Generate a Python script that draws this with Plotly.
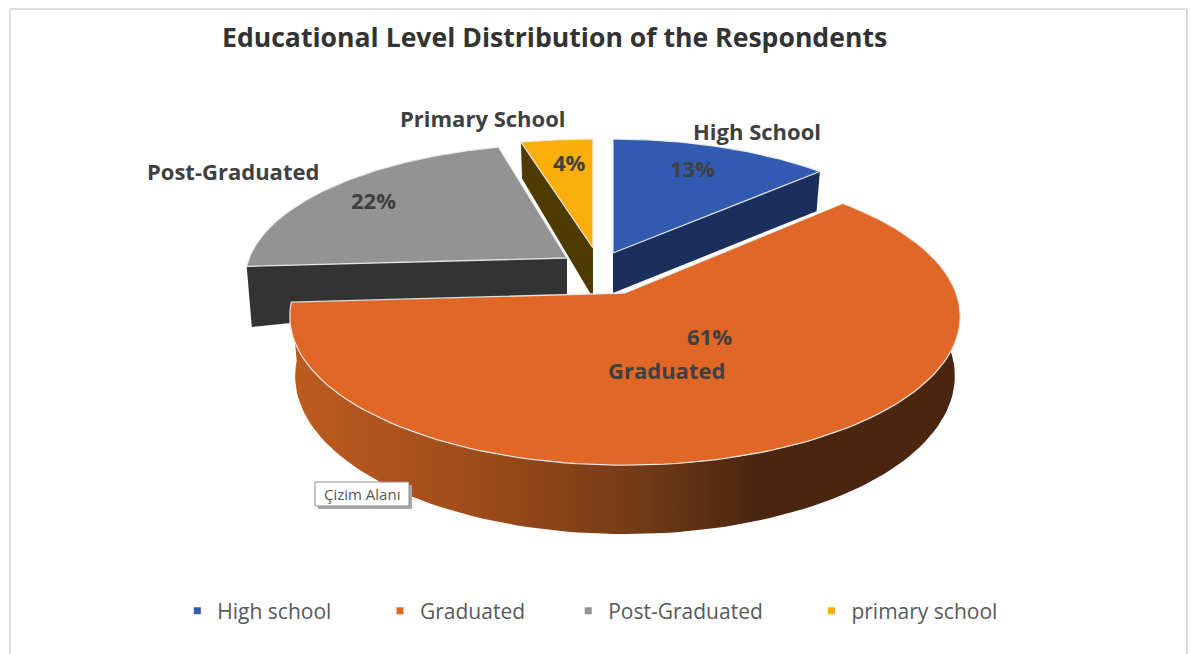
import numpy as np
import plotly.graph_objects as go

# ---- data ----
LEGEND_NAMES = ["High school", "Graduated", "Post-Graduated", "primary school"]
SLICE_NAMES = ["High School", "Graduated", "Post-Graduated", "Primary School"]
VALUES = [13, 61, 22, 4]
TITLE = "Educational Level Distribution of the Respondents"

# ---- style ----
TOP_COLORS = ["#315ab0", "#e06725", "#939393", "#f9ae0b"]
WALL_COLORS = ["#1b2f5e", None, "#333333", "#4f3b00"]
APEX = [(613, 253), (625, 293), (567, 258), (593, 248)]
SCALE_X = [0.95, 1.0, 0.96, 1.01]
SCALE_Y = [0.91, 1.0, 0.91, 0.87]
DEPTH_APEX = [40, 0, 37, 50]
DEPTH_RIM = [44, 58, 60, 42]
WALL_EDGE = ["end", "rim", "start", "start"]
RX, RY, PERSP = 331.0, 145.0, 0.158
SHRINK = 0.984
LABEL_POS = [(757, 131), (666, 370), (233, 171), (482, 118)]
PCT_POS = [(692, 168), (709, 336), (373, 200), (569, 162)]
TEXT_DARK = "#404040"
FONT = "Open Sans"


def project(i, theta):
    """Perspective projection of the pie rim of slice i at angle theta (degrees clockwise from top)."""
    t = np.radians(theta)
    u, v = np.sin(t), np.cos(t)
    w = 1 + PERSP * v
    return APEX[i][0] + SCALE_X[i] * RX * u / w, APEX[i][1] - SCALE_Y[i] * RY * v / w, w


fractions = np.cumsum([0] + VALUES) / sum(VALUES) * 360.0
fig = go.Figure()


def poly(xs, ys, color, gradient=None, width=1.0):
    kw = dict(fillcolor=color) if gradient is None else dict(fillgradient=gradient)
    fig.add_trace(go.Scatter(x=list(xs), y=list(ys), mode="lines", fill="toself",
                             line=dict(color="rgba(235,235,235,0.9)", width=width),
                             hoverinfo="skip", showlegend=False, **kw))


def slice_rim(i):
    th = np.linspace(fractions[i], fractions[i + 1], 120)
    return project(i, th)


def draw_slice(i):
    ax, ay = APEX[i]
    if WALL_EDGE[i] == "rim":
        x, y, w = slice_rim(i)
        bx = ax + (x - ax) * SHRINK
        by = y + DEPTH_RIM[i] / w
        grad = dict(type="horizontal", start=290, stop=960,
                    colorscale=[[0, "#bd5c20"], [0.3, "#9c4a1a"], [0.5, "#773c17"],
                                [0.7, "#4a2510"], [1, "#4a2510"]])
        poly(np.r_[x, bx[::-1]], np.r_[y, by[::-1]], None, grad, width=0)
    else:
        th = fractions[i + 1] if WALL_EDGE[i] == "end" else fractions[i]
        x, y, w = project(i, th)
        bx = ax + (x - ax) * SHRINK
        by = y + DEPTH_RIM[i] / w
        poly([ax, x, bx, ax, ax], [ay, y, by, ay + DEPTH_APEX[i], ay], WALL_COLORS[i], width=0)
    x, y, _ = slice_rim(i)
    poly(np.r_[ax, x, ax], np.r_[ay, y, ay], TOP_COLORS[i], width=1.3)


for i in [2, 3, 0, 1]:
    draw_slice(i)

# legend entries
PADS = [8, 7, 8, 0]
for name, color, pad in zip(LEGEND_NAMES, TOP_COLORS, PADS):
    fig.add_trace(go.Scatter(x=[None], y=[None], mode="markers", name=name + "\u00a0" * pad,
                             marker=dict(symbol="square", size=7, color=color)))

annotations = [dict(x=554, y=37, text=f"<b>{TITLE}</b>", showarrow=False,
                    font=dict(size=26.6, color="#333333", family=FONT))]
for name, pos in zip(SLICE_NAMES, LABEL_POS):
    annotations.append(dict(x=pos[0], y=pos[1], text=f"<b>{name}</b>", showarrow=False,
                            font=dict(size=22, color=TEXT_DARK, family=FONT)))
for val, pos in zip(VALUES, PCT_POS):
    annotations.append(dict(x=pos[0], y=pos[1], text=f"<b>{val}%</b>", showarrow=False,
                            font=dict(size=22, color=TEXT_DARK, family=FONT)))
annotations.append(dict(x=362, y=494, text="Çizim Alanı", showarrow=False,
                        font=dict(size=15, color="#595959", family=FONT)))

shapes = [
    dict(type="line", x0=10, x1=10, y0=9, y1=654, line=dict(color="#e0e0e0", width=2)),
    dict(type="line", x0=10, x1=1187, y0=9, y1=9, line=dict(color="#e0e0e0", width=2)),
    dict(type="line", x0=1187, x1=1187, y0=9, y1=654, line=dict(color="#d8d8d8", width=2)),
    dict(type="rect", x0=318, x1=412, y0=485, y1=509, fillcolor="#a8a8a8", line=dict(width=0)),
    dict(type="rect", x0=315, x1=409, y0=482, y1=506, fillcolor="white",
         line=dict(color="#8c8c8c", width=1)),
]

fig.update_layout(
    width=1190, height=654, autosize=False,
    margin=dict(l=0, r=0, t=0, b=0),
    paper_bgcolor="white", plot_bgcolor="white",
    xaxis=dict(range=[0, 1190], visible=False, fixedrange=True),
    yaxis=dict(range=[654, 0], visible=False, fixedrange=True),
    annotations=annotations, shapes=shapes,
    showlegend=True,
    legend=dict(orientation="h", x=0.149, xanchor="left", y=0.0655, yanchor="middle",
                font=dict(size=21, color="#595959", family=FONT),
                itemwidth=30, bgcolor="rgba(0,0,0,0)", traceorder="normal"),
)

fig.write_html("out.html", config={"displayModeBar": False},
               post_script="document.body.style.margin='0';document.documentElement.style.overflow='hidden';")
